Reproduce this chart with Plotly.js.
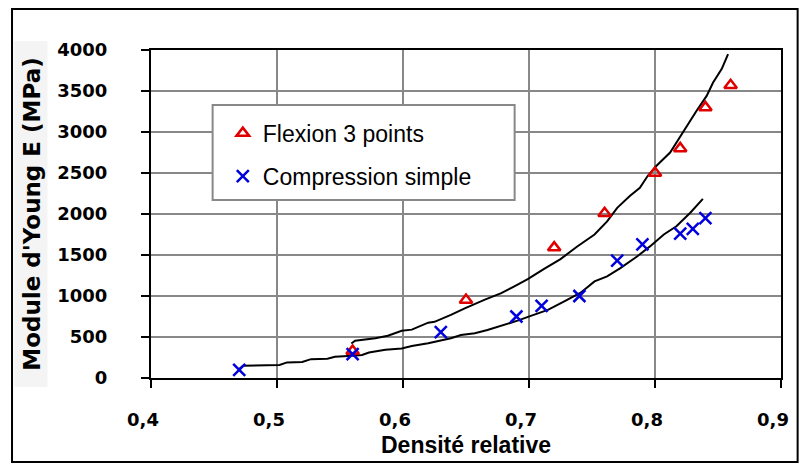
<!DOCTYPE html>
<html>
<head>
<meta charset="utf-8">
<script src="https://cdn.plot.ly/plotly-3.0.1.min.js"></script>
<style>html,body{margin:0;padding:0;background:#fff;}#chart{width:802px;height:465px;}</style>
</head>
<body>
<div id="chart"></div>
<script>
// Measured points
const flexionX = [0.56, 0.65, 0.72, 0.76, 0.80, 0.82, 0.84, 0.86];
const flexionY = [330, 950, 1590, 2010, 2500, 2800, 3300, 3570];
const compX = [0.47, 0.56, 0.63, 0.69, 0.71, 0.74, 0.77, 0.79, 0.82, 0.83, 0.84];
const compY = [100, 290, 560, 750, 880, 1000, 1430, 1630, 1760, 1820, 1950];

// Fitted curves (as drawn)
const flexCurveX = [0.559, 0.562, 0.578, 0.588, 0.599, 0.607, 0.620, 0.625, 0.638, 0.649, 0.665, 0.678, 0.688, 0.699, 0.712, 0.725, 0.738, 0.752, 0.762, 0.770, 0.780, 0.788, 0.794, 0.801, 0.812, 0.820, 0.825, 0.833, 0.841, 0.846, 0.853, 0.858];
const flexCurveY = [420, 455, 485, 515, 575, 590, 675, 685, 770, 850, 955, 1035, 1115, 1205, 1330, 1450, 1600, 1750, 1910, 2075, 2220, 2320, 2460, 2585, 2750, 2950, 3075, 3260, 3440, 3600, 3770, 3950];
const compCurveX = [0.470, 0.473, 0.502, 0.508, 0.520, 0.527, 0.540, 0.546, 0.560, 0.5675, 0.573, 0.586, 0.599, 0.607, 0.620, 0.628, 0.638, 0.646, 0.657, 0.667, 0.680, 0.691, 0.702, 0.715, 0.728, 0.741, 0.752, 0.762, 0.7725, 0.786, 0.796, 0.807, 0.817, 0.828, 0.838];
const compCurveY = [110, 148, 160, 190, 195, 230, 235, 260, 270, 280, 310, 345, 360, 390, 425, 455, 485, 525, 545, 585, 645, 700, 760, 830, 935, 1040, 1178, 1240, 1340, 1485, 1605, 1750, 1850, 2015, 2185];

const seriesNames = ["Flexion 3 points", "Compression simple"];
const xTitle = "Densité relative";
const yTitle = "Module d'Young E (MPa)";

const traces = [
  {x: flexCurveX, y: flexCurveY, mode: 'lines', line: {color: '#000', width: 2}, showlegend: false, hoverinfo: 'skip'},
  {x: compCurveX, y: compCurveY, mode: 'lines', line: {color: '#000', width: 2}, showlegend: false, hoverinfo: 'skip'},
  {x: flexionX, y: flexionY, name: seriesNames[0], mode: 'markers', legendgroup: 'a',
   marker: {symbol: 'triangle-up-open', size: 11, color: '#e00000', line: {width: 2.5, color: '#e00000'}}},
  {x: compX, y: compY, name: seriesNames[1], mode: 'markers', legendgroup: 'b',
   marker: {symbol: 'x-thin-open', size: 12, color: '#0000dd', line: {width: 2.5, color: '#0000dd'}}}
];

const layout = {
  width: 802, height: 465,
  margin: {l: 151, r: 21, t: 50, b: 87},
  paper_bgcolor: '#fff', plot_bgcolor: '#fff',
  separators: ', ',
  showlegend: true,
  legend: {x: 0.114, y: 0.812, xanchor: 'left', yanchor: 'top', bgcolor: 'rgba(0,0,0,0)', borderwidth: 0,
           font: {family: 'Liberation Sans, Arial', size: 23, color: '#000'}, tracegroupgap: 10},
  xaxis: {
    range: [0.4, 0.9], dtick: 0.1, tick0: 0.4,
    showgrid: true, gridcolor: '#888', gridwidth: 2, zeroline: false,
    showline: true, mirror: true, linecolor: '#000', linewidth: 2,
    ticks: 'outside', ticklen: 8, tickwidth: 2, tickcolor: '#000',
    ticklabelshift: -8, ticklabelstandoff: 16,
    tickfont: {family: 'DejaVu Sans', size: 18, color: '#000', weight: 700},
    title: {text: xTitle, font: {family: 'Liberation Sans, Arial', size: 23, color: '#000', weight: 700}, standoff: 8}
  },
  yaxis: {
    range: [0, 4000], dtick: 500, tick0: 0,
    showgrid: true, gridcolor: '#888', gridwidth: 2, zeroline: false,
    showline: true, mirror: true, linecolor: '#000', linewidth: 2,
    ticks: 'outside', ticklen: 8, tickwidth: 2, tickcolor: '#000',
    ticklabelstandoff: 30,
    tickfont: {family: 'DejaVu Sans', size: 18, color: '#000', weight: 700},
    title: {text: yTitle, font: {family: 'DejaVu Sans', size: 23, color: '#000', weight: 700}, standoff: 10}
  },
  shapes: [
    {type: 'rect', xref: 'paper', yref: 'paper', x0: -0.2168, x1: -0.1644, y0: -0.0275, y1: 1.0275,
     fillcolor: '#f4f4f4', line: {width: 0}, layer: 'below'},
    {type: 'rect', xref: 'paper', yref: 'paper', x0: 0.0978, x1: 0.5772, y0: 0.5427, y1: 0.8323,
     fillcolor: '#fff', line: {color: '#888', width: 2}, layer: 'above'},
    {type: 'rect', xref: 'paper', yref: 'paper', x0: -0.2206, x1: 1.0264, y0: -0.2561, y1: 1.1250,
     fillcolor: 'rgba(0,0,0,0)', line: {color: '#000', width: 2}}
  ]
};

Plotly.newPlot('chart', traces, layout, {displayModeBar: false, staticPlot: true});
</script>
</body>
</html>
